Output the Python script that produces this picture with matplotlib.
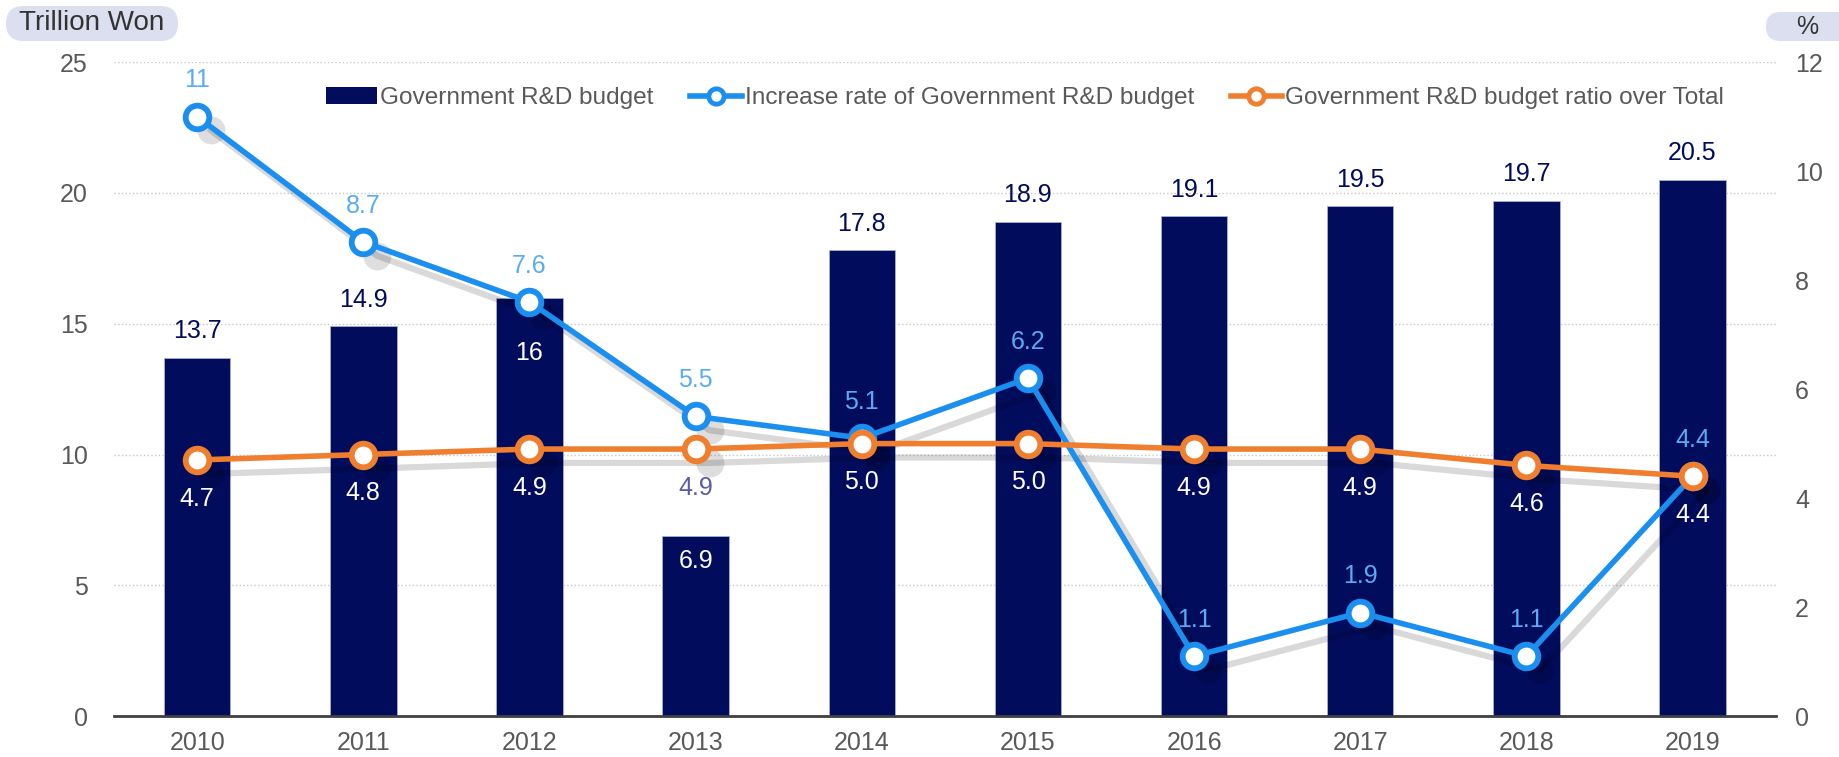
import numpy as np
import matplotlib.pyplot as plt
from matplotlib.patches import FancyBboxPatch, Patch
from matplotlib.lines import Line2D
from matplotlib.transforms import ScaledTranslation

plt.rcParams['font.family'] = ['Liberation Sans', 'DejaVu Sans']

# Government R&D budget, 2010-2019
years = ['2010', '2011', '2012', '2013', '2014', '2015', '2016', '2017', '2018', '2019']
budget = [13.7, 14.9, 16, 6.9, 17.8, 18.9, 19.1, 19.5, 19.7, 20.5]            # trillion won
increase_rate = [11, 8.7, 7.6, 5.5, 5.1, 6.2, 1.1, 1.9, 1.1, 4.4]            # %
ratio_total = [4.7, 4.8, 4.9, 4.9, 5.0, 5.0, 4.9, 4.9, 4.6, 4.4]             # %

NAVY = '#020c5c'
BLUE = '#1b8ff0'
ORANGE = '#ef7f2e'
LIGHT_BLUE = '#5aabf5'
LAVENDER = '#5a5ca8'
GREY = '#595959'
BOX = '#dcdff0'
FS = 18

fig = plt.figure(figsize=(18.4, 7.57), dpi=100)
ax = fig.add_axes([0.062, 0.054, 0.903, 0.864])
ax2 = ax.twinx()

x = np.arange(len(years))

# bars on the left axis
ax.bar(x, budget, width=0.4, color=NAVY, edgecolor='#aab0d0', linewidth=0.6, zorder=2)
ax.set_xlim(-0.5, len(years) - 0.5)
ax.set_ylim(0, 25)
ax.set_yticks(range(0, 26, 5))
ax.set_xticks(x)
ax.set_xticklabels(years)
ax.grid(axis='y', ls=':', color='#c8c8c8', lw=1)
ax.set_axisbelow(True)

ax2.set_ylim(0, 12)
ax2.set_yticks(range(0, 13, 2))

for a in (ax, ax2):
    for s in ('top', 'left', 'right'):
        a.spines[s].set_visible(False)
ax2.spines['bottom'].set_visible(False)
ax.spines['bottom'].set_color('#404040')
ax.spines['bottom'].set_linewidth(2)

ax.tick_params(axis='y', length=0, labelsize=FS, labelcolor=GREY, pad=19)
ax.tick_params(axis='x', length=0, labelsize=FS, labelcolor=GREY, pad=11)
ax2.tick_params(axis='y', length=0, labelsize=FS, labelcolor=GREY, pad=14)

# soft drop shadows under the two lines
shadow = ax2.transData + ScaledTranslation(10 / 72, -10 / 72, fig.dpi_scale_trans)
for series in (increase_rate, ratio_total):
    ax2.plot(x, series, color='k', alpha=0.15, lw=4.5, transform=shadow,
             solid_joinstyle='round', zorder=1)
    ax2.plot(x, series, 'o', ms=20, color='k', alpha=0.13, mew=0, transform=shadow, zorder=1)

ax2.plot(x, increase_rate, color=BLUE, lw=4, marker='o', ms=17, mfc='white',
         mec=BLUE, mew=4.2, zorder=3)
ax2.plot(x, ratio_total, color=ORANGE, lw=4, marker='o', ms=17, mfc='white',
         mec=ORANGE, mew=4.2, zorder=4)

# value labels
inside_bar = {2: -40, 3: -18}   # labels placed inside the bar top (offset in points)
for i, v in enumerate(budget):
    if i in inside_bar:
        ax.annotate(f'{v:g}', (x[i], v), xytext=(0, inside_bar[i]), textcoords='offset points',
                    ha='center', va='center', fontsize=FS, color='white', zorder=6)
    else:
        ax.annotate(f'{v:g}', (x[i], v), xytext=(0, 19), textcoords='offset points',
                    ha='center', va='center', fontsize=FS, color=NAVY, zorder=6)

for i, v in enumerate(increase_rate):
    ax2.annotate(f'{v:g}', (x[i], v), xytext=(0, 26), textcoords='offset points',
                 ha='center', va='center', fontsize=FS, color=LIGHT_BLUE, zorder=6)

for i, v in enumerate(ratio_total):
    on_bar = v * 25 / 12 - 1.5 < budget[i]
    ax2.annotate(f'{v:.1f}', (x[i], v), xytext=(0, -28), textcoords='offset points',
                 ha='center', va='center', fontsize=FS,
                 color='white' if on_bar else LAVENDER, zorder=6)

handles = [
    Patch(facecolor=NAVY),
    Line2D([0], [0], color=BLUE, lw=4, marker='o', ms=11, mfc='white', mec=BLUE, mew=3.5),
    Line2D([0], [0], color=ORANGE, lw=4, marker='o', ms=11, mfc='white', mec=ORANGE, mew=3.5),
]
labels = ['Government R&D budget', 'Increase rate of Government R&D budget',
          'Government R&D budget ratio over Total']
ax2.legend(handles, labels, ncol=3, loc='center', bbox_to_anchor=(0.557, 0.870),
           bbox_transform=fig.transFigure, frameon=False, fontsize=17.6,
           handlelength=2.1, handletextpad=0.12, columnspacing=1.5, labelcolor=GREY)

# unit tags above each axis
fig.add_artist(FancyBboxPatch((0.06, 7.16), 1.72, 0.35, boxstyle='round,pad=0,rounding_size=0.175',
                              transform=fig.dpi_scale_trans, fc=BOX, ec='none'))
fig.text(0.92 / 18.4, 7.335 / 7.57, 'Trillion Won', ha='center', va='center',
         fontsize=20, color='#333333')
fig.add_artist(FancyBboxPatch((17.66, 7.16), 1.0, 0.29, boxstyle='round,pad=0,rounding_size=0.145',
                              transform=fig.dpi_scale_trans, fc=BOX, ec='none'))
fig.text(18.07 / 18.4, 7.305 / 7.57, '%', ha='center', va='center', fontsize=FS, color='#333333')

fig.savefig('out.png', dpi=100)
